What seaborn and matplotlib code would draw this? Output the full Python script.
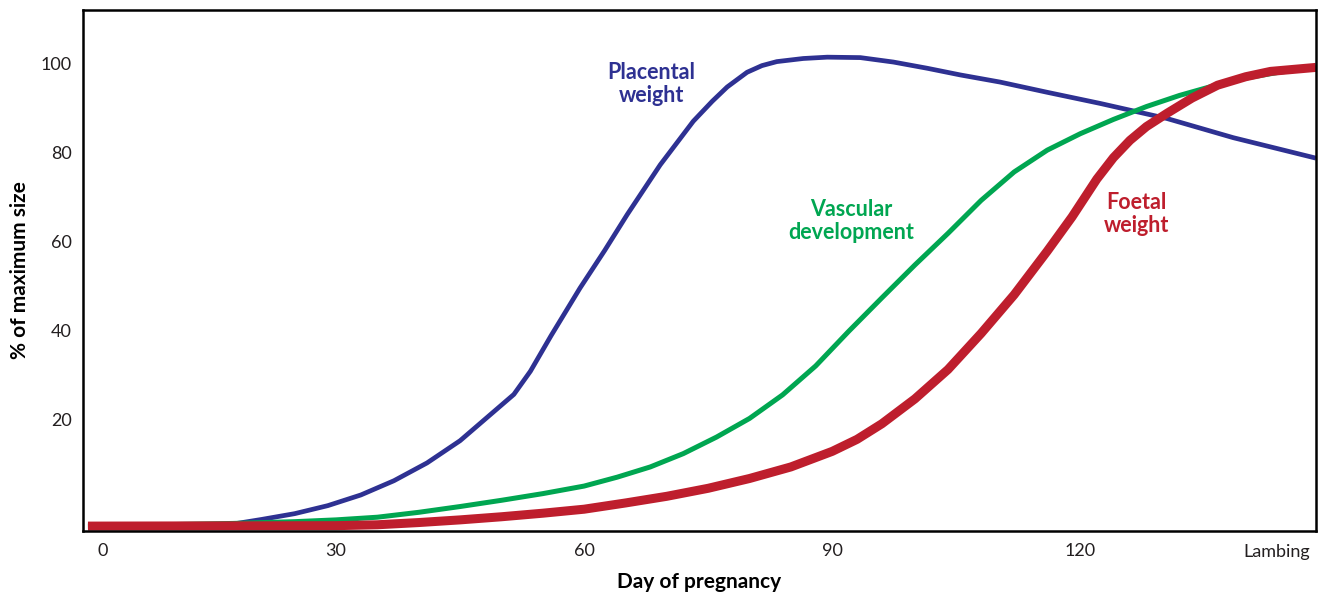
import pandas as pd
import matplotlib.pyplot as plt
import seaborn as sns

# ── Data ──────────────────────────────────────────────────────────────────────
PLACENTAL_DAY = [0.0, 16.0, 18.0, 21.0, 25.0, 29.0, 33.0, 37.0, 41.0, 45.0, 49.0,
                 51.5, 53.5, 56.0, 59.5, 62.5, 65.2, 69.2, 73.2, 75.5, 77.3, 79.7,
                 81.5, 83.3, 86.5, 89.4, 93.4, 97.4, 101.5, 105.5, 110.3, 116.0,
                 122.4, 130.5, 138.5, 148.5]
PLACENTAL_VAL = [-4.0, -4.0, -3.4, -2.5, -1.2, 0.6, 3.0, 6.2, 10.2, 15.2, 21.6,
                 25.6, 30.8, 38.8, 49.5, 58.0, 66.0, 77.2, 87.0, 91.5, 94.7, 98.0,
                 99.5, 100.4, 101.1, 101.4, 101.3, 100.3, 98.9, 97.4, 95.8, 93.5,
                 91.0, 87.6, 83.3, 78.7]

VASCULAR_DAY = [0.0, 17.5, 25.0, 30.0, 35.0, 40.0, 45.0, 50.0, 55.0, 60.0, 64.0,
                68.0, 72.0, 76.0, 80.0, 84.0, 88.0, 92.0, 96.0, 100.0, 104.0,
                108.0, 112.0, 116.0, 120.0, 124.0, 128.0, 132.0, 136.0, 140.0,
                144.0, 148.5]
VASCULAR_VAL = [-4.0, -3.4, -3.0, -2.6, -2.0, -0.9, 0.4, 1.8, 3.3, 5.0, 7.0,
                9.3, 12.3, 16.0, 20.2, 25.5, 32.0, 39.8, 47.3, 54.7, 61.8,
                69.2, 75.6, 80.5, 84.2, 87.4, 90.3, 92.8, 94.9, 96.7,
                98.0, 99.0]

FOETAL_DAY = [0.0, 30.0, 35.0, 40.0, 45.0, 50.0, 55.0, 60.0, 65.0, 70.0, 75.0,
              80.0, 85.0, 90.0, 93.0, 96.0, 100.0, 104.0, 108.0, 112.0, 116.0,
              119.0, 122.0, 124.0, 126.0, 128.0, 130.5, 133.5, 136.6, 140.0,
              143.0, 148.5]
FOETAL_VAL = [-4.0, -3.9, -3.7, -3.2, -2.6, -1.9, -1.1, -0.2, 1.2, 2.7, 4.5,
              6.7, 9.3, 12.8, 15.5, 19.0, 24.6, 31.2, 39.3, 48.0, 57.8,
              65.5, 74.0, 78.8, 82.7, 85.8, 88.8, 92.2, 95.1, 97.0,
              98.2, 99.1]

XTICK_POS    = [1.8, 30, 60, 90, 120, 143.8]
XTICK_LABELS = ["0", "30", "60", "90", "120", "Lambing"]
XTICK_MARKS  = [60, 90, 120]
YTICKS       = [20, 40, 60, 80, 100]

BLUE  = "#2E3192"
GREEN = "#00A651"
RED   = "#BE1E2D"

# ── Plot ──────────────────────────────────────────────────────────────────────
sns.set_theme(style="white")
plt.rcParams["font.family"] = ["Lato", "DejaVu Sans"]

fig = plt.figure(figsize=(13.2, 5.96), dpi=100)
ax = fig.add_axes([83 / 1320, 1 - 531 / 596, (1316 - 83) / 1320, (531 - 10) / 596])

series = [
    (PLACENTAL_DAY, PLACENTAL_VAL, BLUE, 3.4),
    (VASCULAR_DAY, VASCULAR_VAL, GREEN, 3.6),
    (FOETAL_DAY, FOETAL_VAL, RED, 6.5),
]
for days, vals, col, lw in series:
    d = pd.DataFrame({"day": days, "value": vals})
    sns.lineplot(data=d, x="day", y="value", color=col, linewidth=lw, ax=ax,
                 solid_capstyle="butt", solid_joinstyle="round")

lbl = dict(fontsize=15.5, fontweight="bold", ha="center", va="center", linespacing=1.1)
ax.text(68.1, 95.3, "Placental\nweight", color=BLUE, **lbl)
ax.text(92.3, 64.6, "Vascular\ndevelopment", color=GREEN, **lbl)
ax.text(126.8, 66.2, "Foetal\nweight", color=RED, **lbl)

ax.set_xlim(-0.6, 148.5)
ax.set_ylim(-5.1, 112.0)

ax.set_xticks(XTICK_POS)
ax.set_xticklabels(XTICK_LABELS)
ax.set_xticks(XTICK_MARKS, minor=True)
ax.set_yticks(YTICKS)
ax.tick_params(axis="both", which="major", length=0, labelsize=13, labelcolor="#231F20")
ax.tick_params(axis="x", which="major", pad=9)
ax.tick_params(axis="y", which="major", pad=8)
ax.tick_params(axis="x", which="minor", direction="in", length=11, width=1.6,
               color="black", bottom=True)

for sp in ax.spines.values():
    sp.set_color("black")
    sp.set_linewidth(1.8)

ax.set_xlabel("Day of pregnancy", fontsize=15, fontweight="bold", color="black", labelpad=9)
ax.set_ylabel("% of maximum size", fontsize=15, fontweight="bold", color="black", labelpad=8)

fig.savefig("out.png", dpi=100)
